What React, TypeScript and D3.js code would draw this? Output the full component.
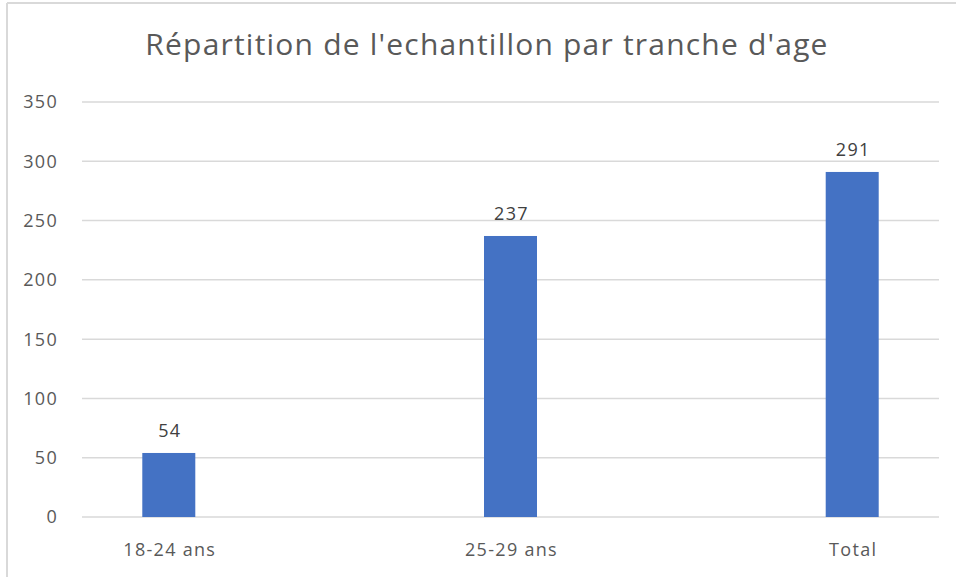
import React from "react";
import * as d3 from "d3";

const categories = ["18-24 ans", "25-29 ans", "Total"];
const values = [54, 237, 291];
const yTicks = [0, 50, 100, 150, 200, 250, 300, 350];
const title = "Répartition de l'echantillon par tranche d'age";

export default function App() {
  const width = 956;
  const height = 577;
  const margin = { top: 102, right: 17, bottom: 60, left: 82 };
  const font = "'Open Sans', sans-serif";

  const x = d3
    .scalePoint<string>()
    .domain(categories)
    .range([margin.left, width - margin.right])
    .padding(0.254);

  const y = d3
    .scaleLinear()
    .domain([0, 350])
    .range([height - margin.bottom, margin.top]);

  const barWidth = 53;
  const labelStyle = { letterSpacing: "1.3px" };

  return (
    <div>
      <style>{"body{margin:0}"}</style>
      <svg width={width} height={height} style={{ display: "block", background: "white" }}>
        {/* cadre */}
        <line x1={7} x2={width} y1={3} y2={3} stroke="#d9d9d9" strokeWidth={2} />
        <line x1={7} x2={7} y1={3} y2={height} stroke="#d9d9d9" strokeWidth={2} />

        {/* titre */}
        <text
          x={487}
          y={55}
          textAnchor="middle"
          fontFamily={font}
          fontSize={30}
          fill="#595959"
          style={{ letterSpacing: "1.2px" }}
        >
          {title}
        </text>

        {/* grille + axe Y */}
        {yTicks.map((t) => (
          <g key={t}>
            <line
              x1={margin.left}
              x2={width - margin.right}
              y1={y(t)}
              y2={y(t)}
              stroke="#d9d9d9"
              strokeWidth={1.5}
            />
            <text
              x={58}
              y={y(t)}
              dy="0.36em"
              textAnchor="end"
              fontFamily={font}
              fontSize={18}
              fill="#595959"
              style={labelStyle}
            >
              {t}
            </text>
          </g>
        ))}

        {/* barres */}
        {categories.map((c, i) => (
          <g key={c}>
            <rect
              x={(x(c) as number) - barWidth / 2}
              y={y(values[i])}
              width={barWidth}
              height={y(0) - y(values[i])}
              fill="#4472C4"
            />
            <text
              x={(x(c) as number) + 1}
              y={y(values[i]) - 16}
              textAnchor="middle"
              fontFamily={font}
              fontSize={18}
              fill="#404040"
              style={labelStyle}
            >
              {values[i]}
            </text>
            <text
              x={(x(c) as number) + 1}
              y={556}
              textAnchor="middle"
              fontFamily={font}
              fontSize={18}
              fill="#595959"
              style={labelStyle}
            >
              {c}
            </text>
          </g>
        ))}
      </svg>
    </div>
  );
}
